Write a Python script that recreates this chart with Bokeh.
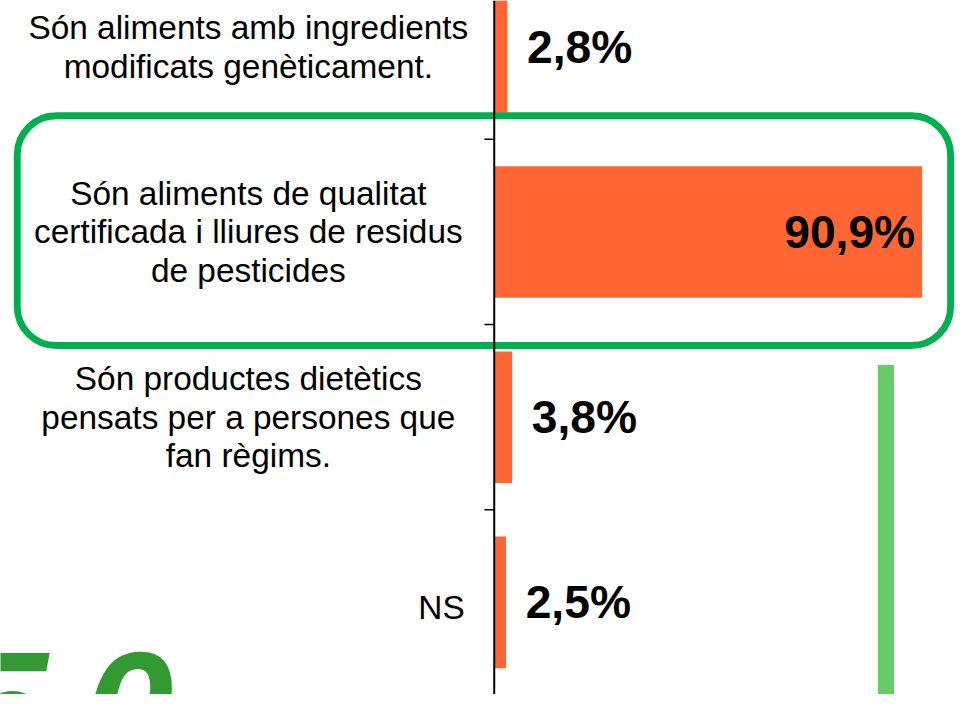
from bokeh.plotting import figure
from bokeh.models import Range1d, Span
from bokeh.core.properties import value
from bokeh.embed import file_html
from bokeh.resources import INLINE

# ---- data ----
categories = [
    "Són aliments amb ingredients\nmodificats genèticament.",
    "Són aliments de qualitat\ncertificada i lliures de residus\nde pesticides",
    "Són productes dietètics\npensats per a persones que\nfan règims.",
    "NS",
]
values = [2.8, 90.9, 3.8, 2.5]
value_labels = ["2,8%", "90,9%", "3,8%", "2,5%"]
highlight_index = 1
badge_text = "50"

# ---- layout / style (reference picture is 972 x 710) ----
REF_W, REF_H = 972, 710
W, H = 956, 694               # fits inside the window with its 8px margin
S = W / REF_W                 # scale for pixel sizes
PX = 435 / 90.9               # reference pixels per percentage point
AXIS_X = 502                  # reference x of the value axis
SLOT = 189.5                  # reference pixels per category
FIRST_C = 47.25               # reference y of the first category centre


def dx(ref_x):
    return (ref_x - AXIS_X) / PX


def dy(ref_y):
    return (ref_y - FIRST_C) / SLOT


p = figure(width=W, height=H,
           x_range=Range1d(dx(0), dx(REF_W)),
           y_range=Range1d(dy(REF_H), dy(0)),
           output_backend="svg", toolbar_location=None,
           x_axis_type=None, y_axis_type=None,
           min_border=0, outline_line_color=None)
p.background_fill_color = "white"
p.border_fill_color = "white"

pos = list(range(len(categories)))

ORANGE = "#FF6633"
FONT = value("Liberation Sans")

# bars
p.hbar(y=pos, left=0, right=values, height=0.71,
       fill_color=ORANGE, line_color=None)

# highlight box round the highlighted category
hi = pos[highlight_index]
p.quad(left=[dx(17)], right=[dx(966)],
       top=[hi - 0.627], bottom=[hi + 0.6135],
       fill_color=None, line_color="#00B050", line_width=7 * S,
       border_radius=int(round(40 * S)))

# decorative green bar at right
p.quad(left=[dx(892)], right=[dx(908.5)],
       top=[dy(373)], bottom=[dy(REF_H) + 0.5],
       fill_color="#66CC66", line_color=None)

# axis line and tick marks at category boundaries
p.add_layout(Span(location=0, dimension="height",
                  line_color="black", line_width=2))
bounds = [i + 0.5 for i in pos[:-1]]
p.segment(x0=[-10 / PX] * len(bounds), y0=bounds,
          x1=[0] * len(bounds), y1=bounds,
          line_color="black", line_width=1.5)

# category labels
LABEL_SIZE = f"{34 * S:.1f}px"
multi_y = [y for y, c in zip(pos, categories) if "\n" in c]
multi_t = [c for c in categories if "\n" in c]
single_y = [y for y, c in zip(pos, categories) if "\n" not in c]
single_t = [c for c in categories if "\n" not in c]
p.text(x=[dx(252)] * len(multi_t), y=multi_y, text=multi_t,
       text_font=FONT, text_font_size=LABEL_SIZE, text_color="black",
       text_align="center", text_baseline="middle", text_line_height=1.05)
p.text(x=[dx(472)] * len(single_t), y=[y + 0.025 for y in single_y],
       text=single_t,
       text_font=FONT, text_font_size=LABEL_SIZE, text_color="black",
       text_align="right", text_baseline="middle")

# value labels
VALUE_SIZE = f"{47 * S:.1f}px"
out_idx = [i for i, v in enumerate(values) if v < 50]
in_idx = [i for i, v in enumerate(values) if v >= 50]
p.text(x=[values[i] for i in out_idx], y=[pos[i] for i in out_idx],
       text=[value_labels[i] for i in out_idx], x_offset=20 * S,
       text_font=FONT, text_font_style="bold", text_font_size=VALUE_SIZE,
       text_color="black", text_align="left", text_baseline="middle")
p.text(x=[values[i] for i in in_idx], y=[pos[i] for i in in_idx],
       text=[value_labels[i] for i in in_idx], x_offset=-7 * S,
       text_font=FONT, text_font_style="bold", text_font_size=VALUE_SIZE,
       text_color="black", text_align="right", text_baseline="middle")

# big green badge number (wide-spaced digits), partly cut off at the bottom
badge_digits = list(badge_text)
badge_x = [dx(48), dx(176)]
p.text(x=badge_x, y=[dy(667)] * len(badge_digits), text=badge_digits,
       text_font=FONT, text_font_style="bold italic",
       text_font_size=f"{165 * S:.1f}px",
       text_color="#339933", text_align="right", text_baseline="top")

open("out.html", "w").write(file_html(p, INLINE))
